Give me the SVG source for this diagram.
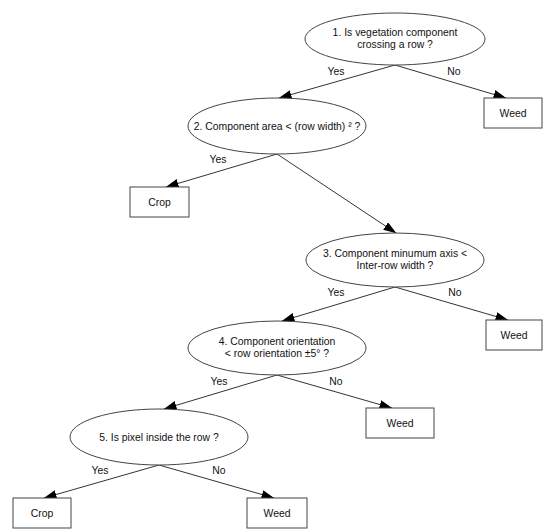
<svg xmlns="http://www.w3.org/2000/svg" width="550" height="530" viewBox="0 0 550 530">
<defs>
<marker id="ah" markerWidth="13" markerHeight="9" refX="12.5" refY="4.5" orient="auto" markerUnits="userSpaceOnUse">
<path d="M0,0 L13,4.5 L0,9 Z" fill="#000"/>
</marker>
<style>
.n{fill:#fff;stroke:#444;stroke-width:1}
.t{font-family:"Liberation Sans",Arial,sans-serif;font-size:10.4px;fill:#111;text-anchor:middle}
.c{stroke:#333;stroke-width:1;fill:none;marker-end:url(#ah)}
</style>
</defs>
<rect width="550" height="530" fill="#fff"/>
<g id="connectors">
<line class="c" x1="395" y1="65" x2="279" y2="98"/>
<line class="c" x1="395" y1="65" x2="506" y2="98"/>
<line class="c" x1="277" y1="154" x2="166" y2="187"/>
<line class="c" x1="277" y1="154" x2="396" y2="233"/>
<line class="c" x1="395" y1="287" x2="282" y2="321"/>
<line class="c" x1="395" y1="287" x2="508" y2="320"/>
<line class="c" x1="277" y1="375" x2="164" y2="409"/>
<line class="c" x1="277" y1="375" x2="392" y2="408"/>
<line class="c" x1="159" y1="465" x2="44" y2="498"/>
<line class="c" x1="159" y1="465" x2="274" y2="498"/>
<text class="t" x="336" y="75">Yes</text>
<text class="t" x="454" y="75">No</text>
<text class="t" x="218" y="163">Yes</text>
<text class="t" x="336" y="296">Yes</text>
<text class="t" x="455" y="296">No</text>
<text class="t" x="219" y="385">Yes</text>
<text class="t" x="336" y="385">No</text>
<text class="t" x="100" y="474">Yes</text>
<text class="t" x="219" y="474">No</text>
</g>
<g id="q1"><ellipse class="n" cx="395" cy="39" rx="90" ry="26"/><text class="t" x="395" y="36">1. Is vegetation component</text><text class="t" x="395" y="48">crossing a row ?</text></g>
<g id="weed1"><rect class="n" x="484" y="98" width="58" height="30"/><text class="t" x="513" y="117">Weed</text></g>
<g id="q2"><ellipse class="n" cx="277" cy="126" rx="89" ry="28"/><text class="t" x="277" y="130">2. Component area &lt; (row width) ² ?</text></g>
<g id="crop1"><rect class="n" x="130" y="187" width="59" height="30"/><text class="t" x="159.5" y="206">Crop</text></g>
<g id="q3"><ellipse class="n" cx="395" cy="260" rx="89" ry="27"/><text class="t" x="395" y="257">3. Component minumum axis &lt;</text><text class="t" x="395" y="269">Inter-row width ?</text></g>
<g id="weed2"><rect class="n" x="486" y="320" width="56" height="30"/><text class="t" x="514" y="339">Weed</text></g>
<g id="q4"><ellipse class="n" cx="277" cy="348" rx="89" ry="27"/><text class="t" x="277" y="345">4. Component orientation</text><text class="t" x="277" y="357">&lt; row orientation ±5° ?</text></g>
<g id="weed3"><rect class="n" x="366" y="408" width="68" height="30"/><text class="t" x="400" y="427">Weed</text></g>
<g id="q5"><ellipse class="n" cx="159" cy="437" rx="89" ry="28"/><text class="t" x="159" y="441">5. Is pixel inside the row ?</text></g>
<g id="crop2"><rect class="n" x="13" y="498" width="58" height="30"/><text class="t" x="42" y="517">Crop</text></g>
<g id="weed4"><rect class="n" x="247" y="498" width="60" height="30"/><text class="t" x="277" y="517">Weed</text></g>
</svg>
